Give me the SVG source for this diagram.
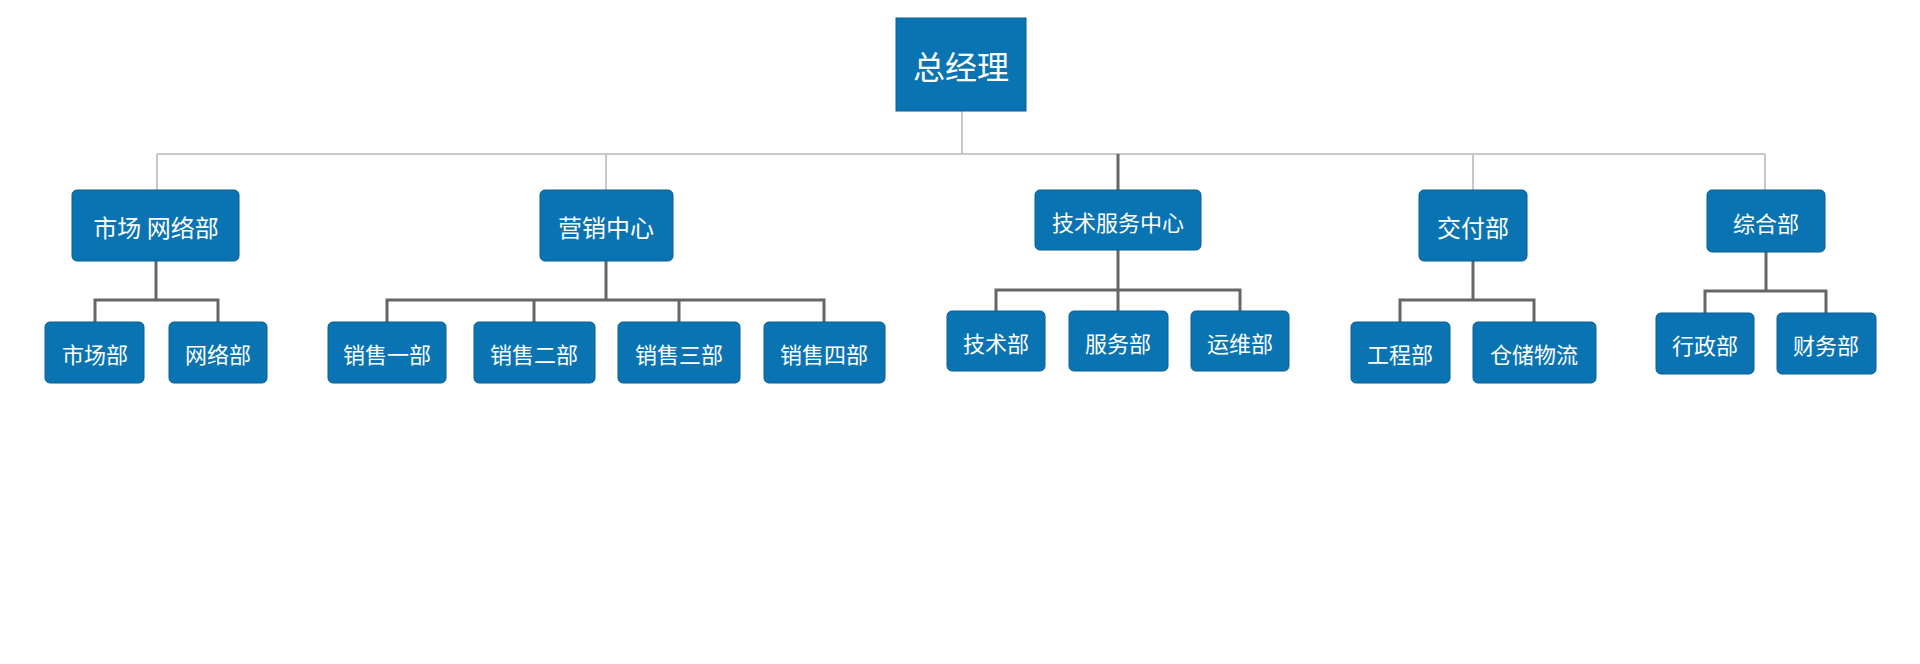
<svg xmlns="http://www.w3.org/2000/svg" width="1920" height="664" viewBox="0 0 1920 664">
<style>
.b{fill:#0a74b3;stroke:#0b5e8f;stroke-width:1}
.t{fill:#fff;font-family:"Noto Sans CJK SC",sans-serif;text-anchor:middle;dominant-baseline:central}
.l1{stroke:#c8c8c8;stroke-width:2;fill:none}
.l2{stroke:#666;stroke-width:3;fill:none}
</style>
<rect width="1920" height="664" fill="#fff"/>
<g id="connectors">
<path class="l1" d="M962 111V154M157 154H1765M157 154V190M606 154V190M1473 154V190M1765 154V190"/>
<path class="l2" d="M1118 154V190"/>
<path class="l2" d="M156 261V300M95 322V300H218V322"/>
<path class="l2" d="M606 261V300M387 322V300H824V322M534 300V322M679 300V322"/>
<path class="l2" d="M1118 250V290M996 311V290H1240V311M1118 290V311"/>
<path class="l2" d="M1473 261V300M1400 322V300H1534V322"/>
<path class="l2" d="M1766 252V291M1705 313V291H1826V313"/>
</g>
<g id="n0"><rect class="b" x="896" y="18" width="130" height="93"/><text class="t" x="961" y="65" font-size="32">总经理</text></g>
<g id="n1"><rect class="b" x="72" y="190" width="167" height="71" rx="5"/><text class="t" x="156" y="226" font-size="24">市场 网络部</text></g>
<g id="n2"><rect class="b" x="540" y="190" width="133" height="71" rx="5"/><text class="t" x="606" y="226" font-size="24">营销中心</text></g>
<g id="n3"><rect class="b" x="1035" y="190" width="166" height="60" rx="5"/><text class="t" x="1118" y="221" font-size="22">技术服务中心</text></g>
<g id="n4"><rect class="b" x="1419" y="190" width="108" height="71" rx="5"/><text class="t" x="1473" y="226" font-size="24">交付部</text></g>
<g id="n5"><rect class="b" x="1707" y="190" width="118" height="62" rx="5"/><text class="t" x="1766" y="222" font-size="22">综合部</text></g>
<g id="n6"><rect class="b" x="45" y="322" width="99" height="61" rx="5"/><text class="t" x="95" y="353" font-size="22">市场部</text></g>
<g id="n7"><rect class="b" x="169" y="322" width="98" height="61" rx="5"/><text class="t" x="218" y="353" font-size="22">网络部</text></g>
<g id="n8"><rect class="b" x="328" y="322" width="118" height="61" rx="5"/><text class="t" x="387" y="353" font-size="22">销售一部</text></g>
<g id="n9"><rect class="b" x="474" y="322" width="121" height="61" rx="5"/><text class="t" x="534" y="353" font-size="22">销售二部</text></g>
<g id="n10"><rect class="b" x="618" y="322" width="122" height="61" rx="5"/><text class="t" x="679" y="353" font-size="22">销售三部</text></g>
<g id="n11"><rect class="b" x="764" y="322" width="121" height="61" rx="5"/><text class="t" x="824" y="353" font-size="22">销售四部</text></g>
<g id="n12"><rect class="b" x="947" y="311" width="98" height="60" rx="5"/><text class="t" x="996" y="342" font-size="22">技术部</text></g>
<g id="n13"><rect class="b" x="1069" y="311" width="99" height="60" rx="5"/><text class="t" x="1118" y="342" font-size="22">服务部</text></g>
<g id="n14"><rect class="b" x="1191" y="311" width="98" height="60" rx="5"/><text class="t" x="1240" y="342" font-size="22">运维部</text></g>
<g id="n15"><rect class="b" x="1351" y="322" width="99" height="61" rx="5"/><text class="t" x="1400" y="353" font-size="22">工程部</text></g>
<g id="n16"><rect class="b" x="1473" y="322" width="123" height="61" rx="5"/><text class="t" x="1534" y="353" font-size="22">仓储物流</text></g>
<g id="n17"><rect class="b" x="1656" y="313" width="98" height="61" rx="5"/><text class="t" x="1705" y="344" font-size="22">行政部</text></g>
<g id="n18"><rect class="b" x="1777" y="313" width="99" height="61" rx="5"/><text class="t" x="1826" y="344" font-size="22">财务部</text></g>
</svg>
